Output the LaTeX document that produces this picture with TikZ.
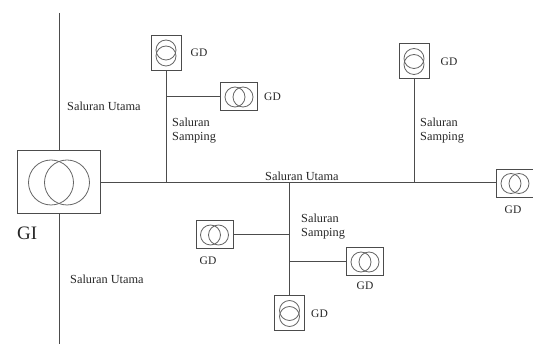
\documentclass[tikz,border=0pt]{standalone}
\usepackage{fontspec}
\setmainfont{Liberation Serif}
\usetikzlibrary{positioning}

\begin{document}
\begin{tikzpicture}[
    x=1pt, y=-1pt,
    node distance=9pt and 9pt,
    line/.style={draw=black!70, line width=1pt},
    ring/.style={draw=black!60, line width=0.8pt},
    gdh/.style={line, minimum width=37pt, minimum height=28pt, inner sep=0pt, path picture={
        \draw[ring] ([xshift=-4pt]path picture bounding box.center) circle (10pt);
        \draw[ring] ([xshift=4pt]path picture bounding box.center) circle (10pt);}},
    gdv/.style={line, minimum width=30pt, minimum height=35pt, inner sep=0pt, path picture={
        \draw[ring] ([yshift=3pt]path picture bounding box.center) circle (10pt);
        \draw[ring] ([yshift=-3pt]path picture bounding box.center) circle (10pt);}},
    gi/.style={line, minimum width=83pt, minimum height=63pt, inner sep=0pt, path picture={
        \draw[ring] ([xshift=-8pt]path picture bounding box.center) circle (22.5pt);
        \draw[ring] ([xshift=8pt]path picture bounding box.center) circle (22.5pt);}},
    lbl/.style={font=\fontsize{12.3}{14}\selectfont, align=left, inner sep=0pt, text=black!85},
    gdlbl/.style={lbl, font=\fontsize{11.5}{14}\selectfont},
  ]
    \useasboundingbox (0,0) rectangle (533,344);

    % ---- gardu induk and main line ----
    \node[gi] (gi) at (59,182.5) {};
    \node[lbl, font=\fontsize{19}{20}\selectfont, anchor=west] (gilbl) at (17,233) {GI};
    \coordinate (utop) at (59,13);
    \coordinate (ubot) at (59,344);
    \node[gdh] (gdr) at (515,183.5) {};
    \coordinate (ja) at (166,183);
    \coordinate (jb) at (289,183);
    \coordinate (jc) at (414,183);

    % ---- gardu distribusi ----
    \node[gdv] (gda) at (166,53) {};
    \node[gdh] (gdb) at (239,97) {};
    \node[gdv] (gdc) at (414,61.5) {};
    \node[gdh] (gdd) at (214.5,235) {};
    \node[gdh] (gde) at (365,262) {};
    \node[gdv] (gdf) at (289.5,313.5) {};
    \coordinate (jd) at (166,97);
    \coordinate (je) at (289,235);
    \coordinate (jf) at (289,262);

    \node[gdlbl, right=9pt of gda] (gdalbl) {GD};
    \node[gdlbl, right=6pt of gdb] (gdblbl) {GD};
    \node[gdlbl, right=11pt of gdc] (gdclbl) {GD};
    \node[gdlbl, anchor=center] (gddlbl) at (208,261) {GD};
    \node[gdlbl, below=5.5pt of gde] (gdelbl) {GD};
    \node[gdlbl, right=6pt of gdf] (gdflbl) {GD};
    \node[gdlbl, anchor=center] (gdrlbl) at (513,210) {GD};

    % ---- saluran labels ----
    \node[lbl, anchor=west] (uatas) at (67,106) {Saluran Utama};
    \node[lbl, anchor=west] (utengah) at (265,176) {Saluran Utama};
    \node[lbl, anchor=west] (ubawah) at (70,279) {Saluran Utama};
    \node[lbl, anchor=west] (sa) at (172,131) {Saluran\\Samping};
    \node[lbl, anchor=west] (sb) at (420,131) {Saluran\\Samping};
    \node[lbl, anchor=west] (sc) at (301,226.5) {Saluran\\Samping};

    \draw[line] (utop) -- (gi.north -| utop);
    \draw[line] (gi.south -| ubot) -- (ubot);
    \draw[line] (gi.east |- ja) -- (gdr.west |- ja);
    \draw[line] (gda.south) -- (ja);
    \draw[line] (jd) -- (gdb.west);
    \draw[line] (gdc.south) -- (jc);
    \draw[line] (jb) -- (gdf.north -| jb);
    \draw[line] (gdd.east) -- (je);
    \draw[line] (jf) -- (gde.west |- jf);
  \end{tikzpicture}
\end{document}
